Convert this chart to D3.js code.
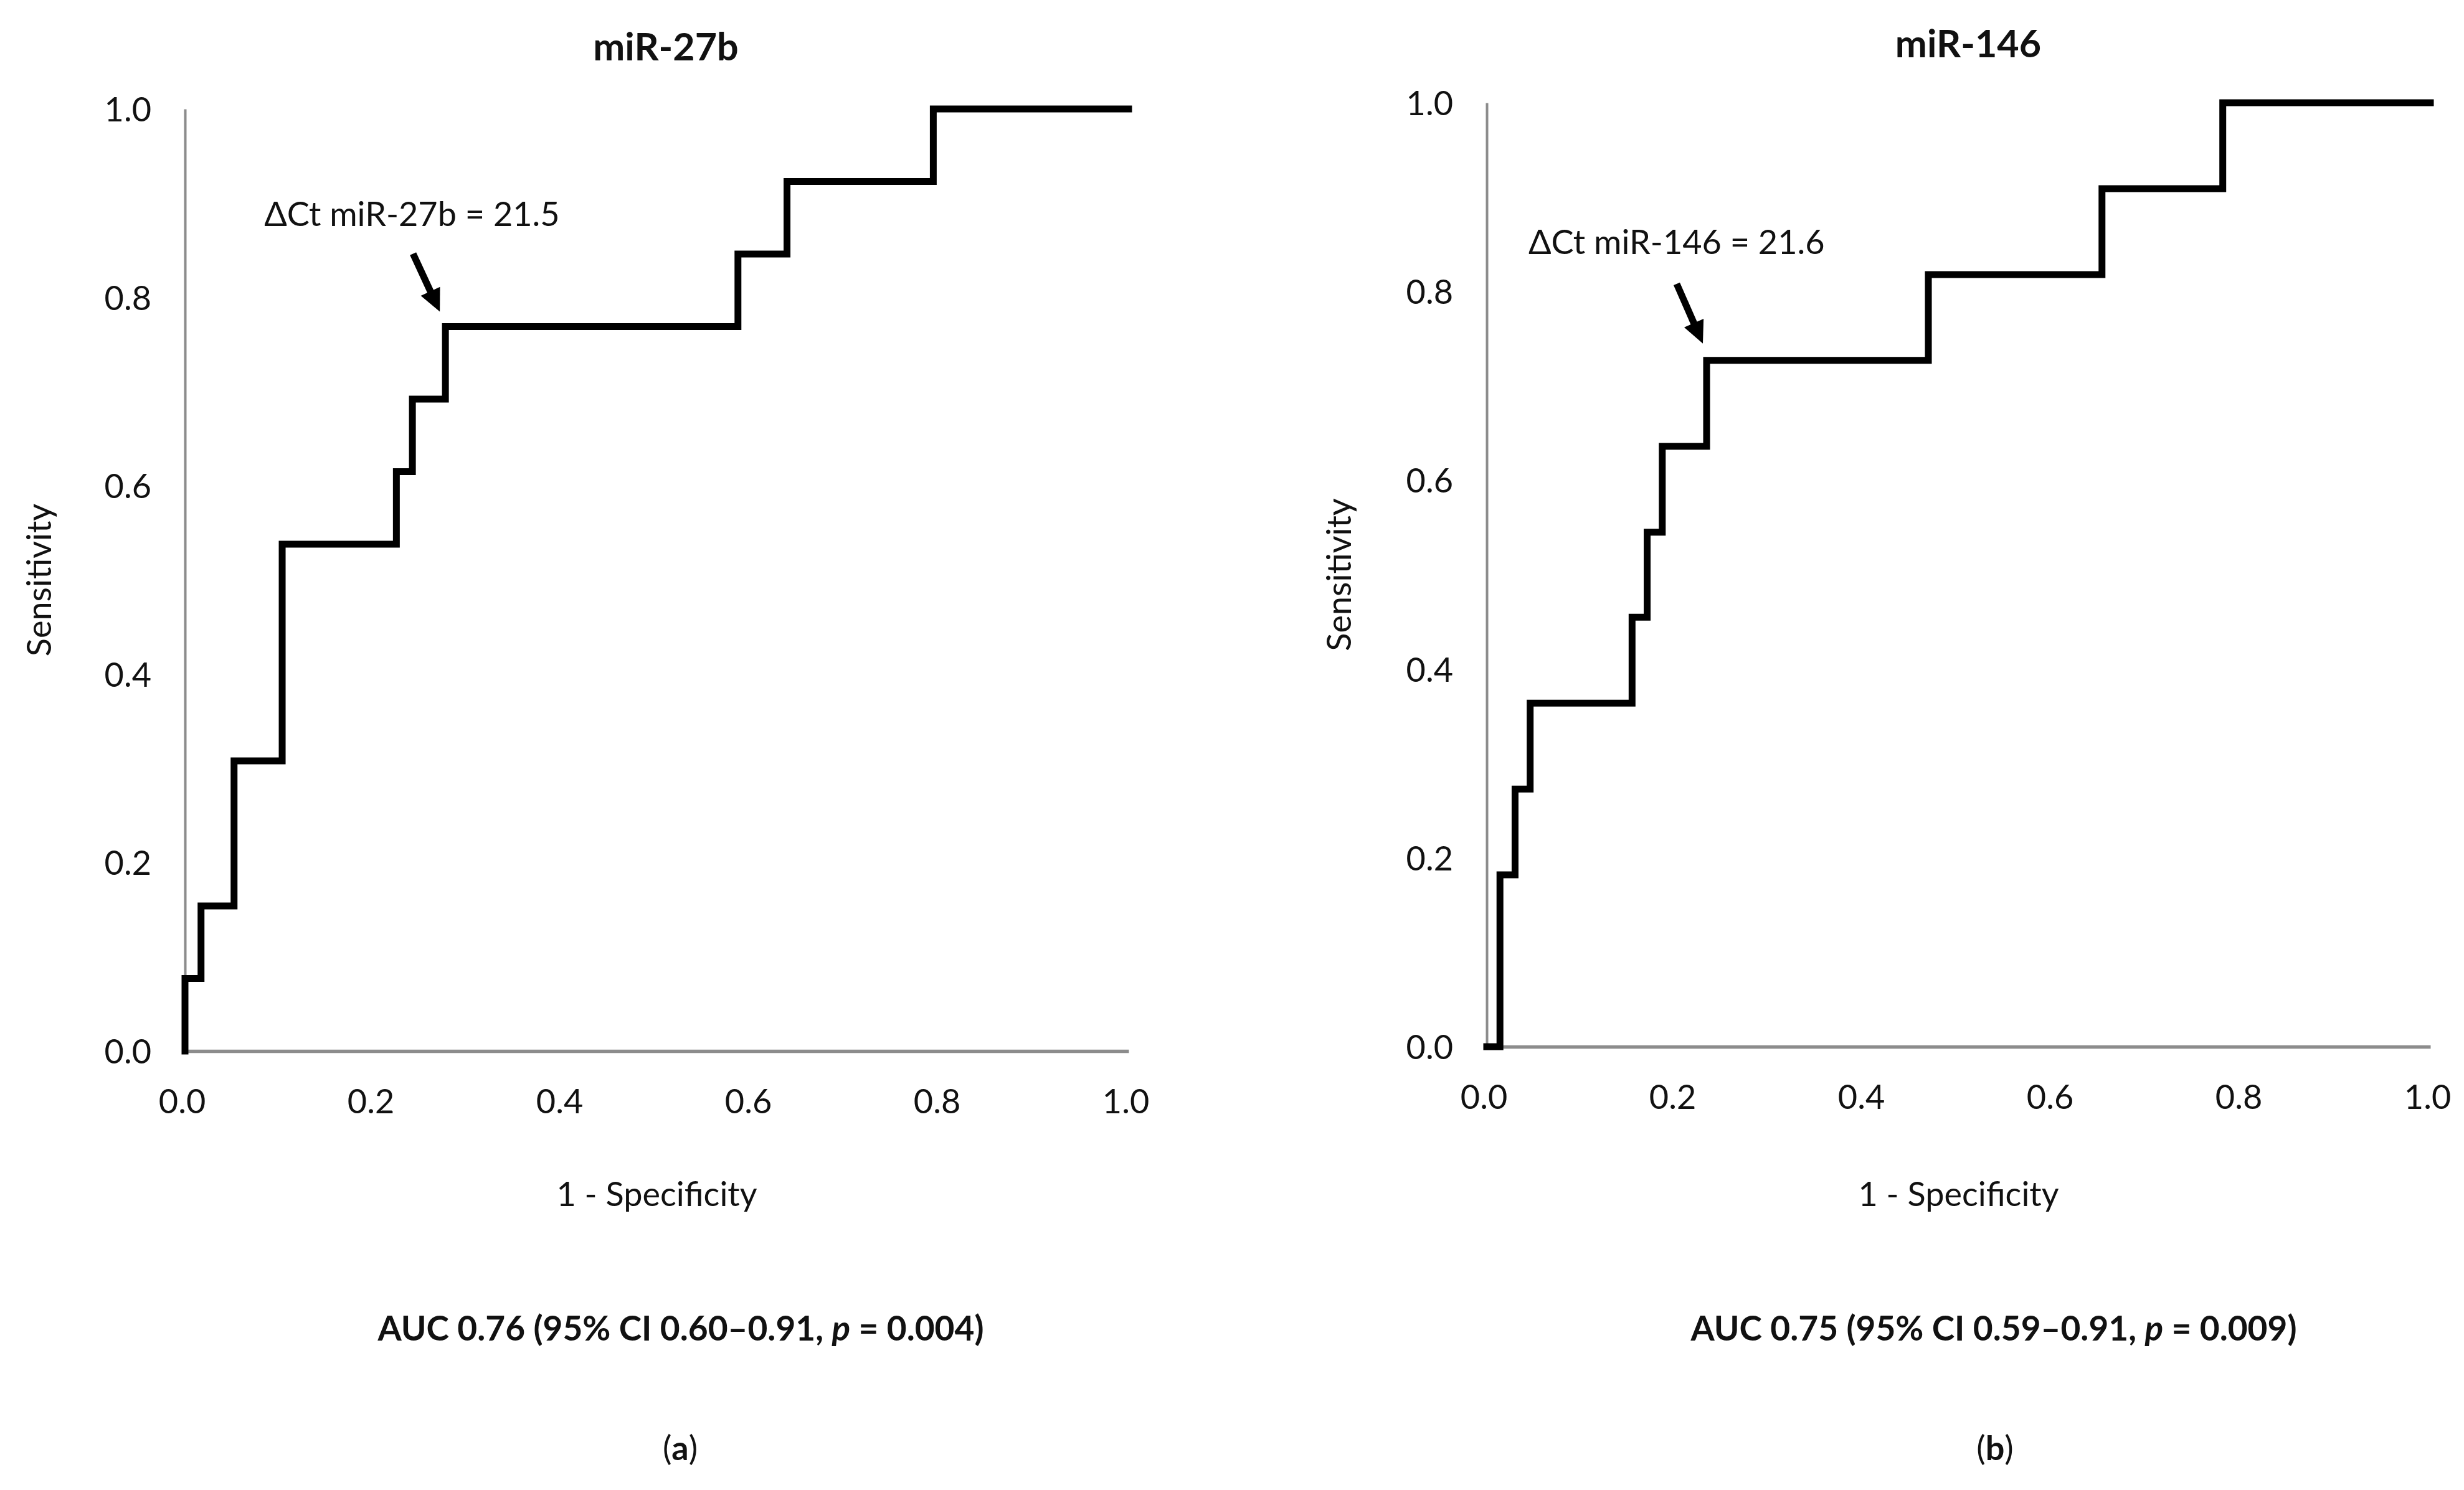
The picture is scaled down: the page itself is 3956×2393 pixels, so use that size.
<!DOCTYPE html>
<html>
<head>
<meta charset="utf-8">
<script src="https://cdn.jsdelivr.net/npm/d3@7"></script>
<style>
html,body{margin:0;padding:0;background:#fff;}
svg{display:block;}
text{font-family:Lato,"Open Sans",sans-serif;fill:#111;}
</style>
</head>
<body>
<svg id="chart" width="3956" height="2393"></svg>
<script>
// ---- data ----
const xTickValues = [0, 0.2, 0.4, 0.6, 0.8, 1.0];
const yTickValues = [0, 0.2, 0.4, 0.6, 0.8, 1.0];
const panelTitles = ["miR-27b", "miR-146"];
const xAxisTitle = "1 - Specificity";
const yAxisTitle = "Sensitivity";
// ROC points (1 - specificity, sensitivity) at each upward step
const fprMiR27b = [0, 0, 0.017, 0.052, 0.103, 0.224, 0.241, 0.276, 0.586, 0.638, 0.793, 1.0];
const tprMiR27b = [0, 0.077, 0.154, 0.308, 0.538, 0.615, 0.692, 0.769, 0.846, 0.923, 1.0, 1.0];
const fprMiR146 = [0, 0.014, 0.030, 0.046, 0.154, 0.170, 0.186, 0.233, 0.468, 0.652, 0.780, 1.0];
const tprMiR146 = [0, 0.182, 0.273, 0.364, 0.455, 0.545, 0.636, 0.727, 0.818, 0.909, 1.0, 1.0];
const cutoffFpr = [0.276, 0.233];
const cutoffTpr = [0.769, 0.727];
const cutoffLabels = ["ΔCt miR-27b = 21.5", "ΔCt miR-146 = 21.6"];
const aucBefore = ["AUC 0.76 (95% CI 0.60–0.91, ", "AUC 0.75 (95% CI 0.59–0.91, "];
const aucItalic = ["p", "p"];
const aucAfter = [" = 0.004)", " = 0.009)"];
const panelLetters = ["(a)", "(b)"];

// ---- layout ----
const layout = [
  {x0: 297, x1: 1812, yb: 1688, yt: 175, titleX: 1069, titleY: 97, ylabX: 63, aucX: 1093, letterX: 1092,
   tail: [-52, -117], tip: [-9, -24], textDx: -291, textDy: -162},
  {x0: 2387, x1: 3902, yb: 1681, yt: 165, titleX: 3160, titleY: 92, ylabX: 2150, aucX: 3201, letterX: 3203,
   tail: [-48, -123], tip: [-6, -27], textDx: -286, textDy: -171}
];
const series = [
  {fpr: fprMiR27b, tpr: tprMiR27b},
  {fpr: fprMiR146, tpr: tprMiR146}
];

const svg = d3.select("#chart");
svg.append("rect").attr("width", 3956).attr("height", 2393).attr("fill", "#fff");

const FONT = 54;

layout.forEach((L, i) => {
  const x = d3.scaleLinear().domain([0, 1]).range([L.x0, L.x1]);
  const y = d3.scaleLinear().domain([0, 1]).range([L.yb, L.yt]);
  const g = svg.append("g");

  // title
  g.append("text").attr("x", L.titleX).attr("y", L.titleY)
    .attr("text-anchor", "middle").attr("font-size", 61).attr("font-weight", "bold")
    .text(panelTitles[i]);

  // y axis (line only, labels)
  const yAxis = d3.axisLeft(y).tickValues(yTickValues).tickSize(0).tickPadding(54)
    .tickFormat(d3.format(".1f"));
  const ya = g.append("g").attr("transform", `translate(${L.x0},0)`).call(yAxis);
  ya.select(".domain").attr("stroke", "#8c8c8c").attr("stroke-width", 4);
  ya.selectAll(".tick text").attr("font-size", FONT).attr("font-family", "Lato").attr("fill", "#111")
    .attr("dy", "0.36em");

  // x axis
  const xAxis = d3.axisBottom(x).tickValues(xTickValues).tickSize(0).tickPadding(62)
    .tickFormat(d3.format(".1f"));
  const xa = g.append("g").attr("transform", `translate(0,${L.yb})`).call(xAxis);
  xa.select(".domain").attr("stroke", "#8c8c8c").attr("stroke-width", 5.5);
  xa.selectAll(".tick text").attr("font-size", FONT).attr("font-family", "Lato").attr("fill", "#111")
    .attr("dx", -5);

  // axis titles
  g.append("text").attr("x", (L.x0 + L.x1) / 2).attr("y", 1937)
    .attr("text-anchor", "middle").attr("font-size", FONT).text(xAxisTitle);
  g.append("text").attr("transform", `translate(${L.ylabX},${(L.yb + L.yt) / 2}) rotate(-90)`)
    .attr("text-anchor", "middle").attr("dy", "0.35em").attr("font-size", FONT).text(yAxisTitle);

  // ROC curve
  const pts = series[i].fpr.map((f, k) => [f, series[i].tpr[k]]);
  const line = d3.line().x(d => x(d[0])).y(d => y(d[1])).curve(d3.curveStepAfter);
  g.append("path").attr("d", line(pts)).attr("fill", "none").attr("stroke", "#000")
    .attr("stroke-width", 11).attr("stroke-linejoin", "miter").attr("stroke-linecap", "square");

  // cutoff arrow + label
  const cx = x(cutoffFpr[i]), cy = y(cutoffTpr[i]);
  const tx = cx + L.tail[0], ty = cy + L.tail[1];
  const px = cx + L.tip[0], py = cy + L.tip[1];
  const dx = px - tx, dy = py - ty, len = Math.hypot(dx, dy);
  const ux = dx / len, uy = dy / len, nx = -uy, ny = ux;
  const headLen = 36, headW = 17;
  const bx = px - ux * headLen, by = py - uy * headLen;
  g.append("line").attr("x1", tx).attr("y1", ty).attr("x2", bx + ux * 2).attr("y2", by + uy * 2)
    .attr("stroke", "#000").attr("stroke-width", 11);
  g.append("path").attr("d", `M${px},${py}L${bx + nx * headW},${by + ny * headW}L${bx - nx * headW},${by - ny * headW}Z`)
    .attr("fill", "#000");
  g.append("text").attr("x", cx + L.textDx).attr("y", cy + L.textDy)
    .attr("font-size", FONT).text(cutoffLabels[i]);

  // AUC line
  const auc = g.append("text").attr("x", L.aucX).attr("y", 2153).attr("text-anchor", "middle")
    .attr("font-size", 55).attr("font-weight", "bold");
  auc.append("tspan").text(aucBefore[i]);
  auc.append("tspan").attr("font-style", "italic").text(aucItalic[i]);
  auc.append("tspan").text(aucAfter[i]);

  // panel letter
  const lt = g.append("text").attr("x", L.letterX).attr("y", 2345).attr("text-anchor", "middle")
    .attr("font-size", FONT);
  lt.append("tspan").text("(");
  lt.append("tspan").attr("font-weight", "bold").text(panelLetters[i].slice(1, -1));
  lt.append("tspan").text(")");
});
</script>
</body>
</html>
